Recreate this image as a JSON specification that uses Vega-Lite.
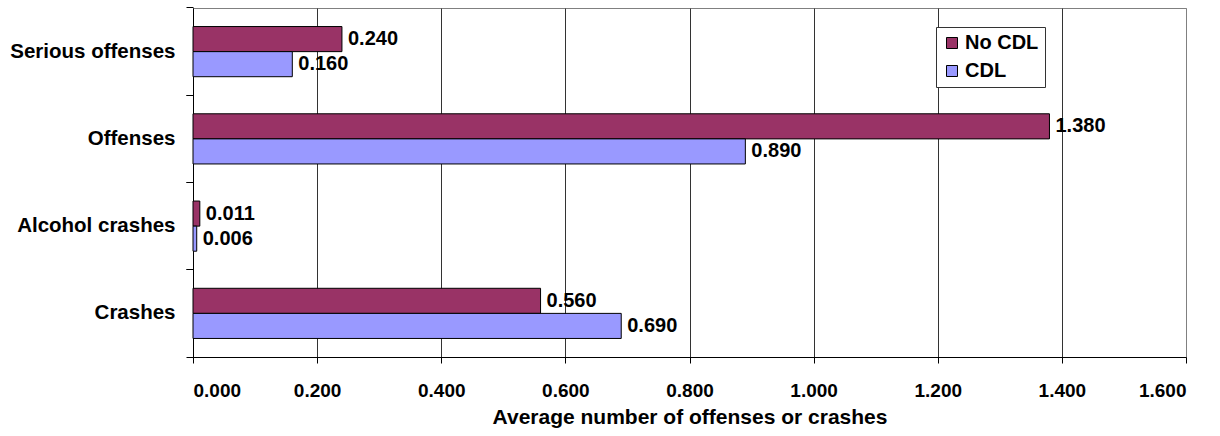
{
  "$schema": "https://vega.github.io/schema/vega-lite/v6.json",
  "width": 993,
  "height": 349,
  "autosize": {"type": "none"},
  "padding": {"left": 193, "top": 8, "right": 34, "bottom": 79},
  "background": "white",
  "config": {
    "font": "Liberation Sans",
    "view": {"stroke": "#808080", "strokeWidth": 1},
    "axis": {"labelFont": "Liberation Sans", "titleFont": "Liberation Sans"}
  },
  "data": {
    "values": [
      {"measure": "Serious offenses", "group": "No CDL", "avg": 0.240},
      {"measure": "Serious offenses", "group": "CDL", "avg": 0.160},
      {"measure": "Offenses", "group": "No CDL", "avg": 1.380},
      {"measure": "Offenses", "group": "CDL", "avg": 0.890},
      {"measure": "Alcohol crashes", "group": "No CDL", "avg": 0.011},
      {"measure": "Alcohol crashes", "group": "CDL", "avg": 0.006},
      {"measure": "Crashes", "group": "No CDL", "avg": 0.560},
      {"measure": "Crashes", "group": "CDL", "avg": 0.690}
    ]
  },
  "resolve": {"axis": {"y": "independent"}},
  "encoding": {
    "yOffset": {
      "field": "group",
      "type": "nominal",
      "sort": ["No CDL", "CDL"],
      "scale": {"paddingInner": 0, "paddingOuter": 0}
    },
    "x": {
      "field": "avg",
      "type": "quantitative",
      "scale": {"domain": [0, 1.6], "nice": false},
      "axis": {
        "title": "Average number of offenses or crashes",
        "values": [0, 0.2, 0.4, 0.6, 0.8, 1.0, 1.2, 1.4, 1.6],
        "format": ".3f",
        "grid": true,
        "gridColor": {"condition": {"test": "datum.value >= 1.6", "value": "#808080"}, "value": "#333333"},
        "gridWidth": 1,
        "domainColor": "#000000",
        "tickColor": "#000000",
        "tickSize": 6,
        "labelPadding": 18,
        "labelFontSize": 19,
        "labelFontWeight": "bold",
        "labelColor": "#000000",
        "titleFontSize": 21,
        "titleFontWeight": "bold",
        "titleColor": "#000000",
        "titlePadding": 6
      }
    }
  },
  "layer": [
    {
      "mark": {"type": "bar", "stroke": "#000000", "strokeWidth": 1},
      "encoding": {
        "y": {
          "field": "measure",
          "type": "nominal",
          "sort": ["Serious offenses", "Offenses", "Alcohol crashes", "Crashes"],
          "scale": {"paddingInner": 0.425, "paddingOuter": 0.2125},
          "axis": {
            "title": null,
            "orient": "left",
            "grid": false,
            "domainColor": "#000000",
            "tickColor": "#000000",
            "bandPosition": 1.37,
            "tickSize": 7,
            "labelPadding": 11,
            "labelFontSize": 20.5,
            "labelFontWeight": "bold",
            "labelColor": "#000000"
          }
        },
        "color": {
          "field": "group",
          "type": "nominal",
          "sort": ["No CDL", "CDL"],
          "scale": {"domain": ["No CDL", "CDL"], "range": ["#993366", "#9999FF"]},
          "legend": {
            "title": null,
            "orient": "none",
            "legendX": 743,
            "legendY": 19,
            "fillColor": "white",
            "strokeColor": "#333333",
            "padding": 6,
            "rowPadding": 8,
            "symbolType": "square",
            "symbolSize": 121,
            "symbolStrokeColor": "#000000",
            "symbolStrokeWidth": 1,
            "labelFontSize": 20,
            "labelFontWeight": "bold",
            "labelColor": "#000000",
            "labelOffset": 3
          }
        }
      }
    },
    {
      "mark": {
        "type": "text",
        "align": "left",
        "baseline": "middle",
        "dx": 6,
        "fontSize": 20,
        "fontWeight": "bold",
        "color": "#000000"
      },
      "encoding": {
        "y": {
          "field": "measure",
          "type": "nominal",
          "sort": ["Serious offenses", "Offenses", "Alcohol crashes", "Crashes"],
          "axis": {
            "title": null,
            "orient": "left",
            "grid": false,
            "domain": false,
            "labels": false,
            "tickColor": "#000000",
            "bandPosition": -0.37,
            "tickSize": 7
          }
        },
        "text": {"field": "avg", "type": "quantitative", "format": ".3f"}
      }
    }
  ]
}
